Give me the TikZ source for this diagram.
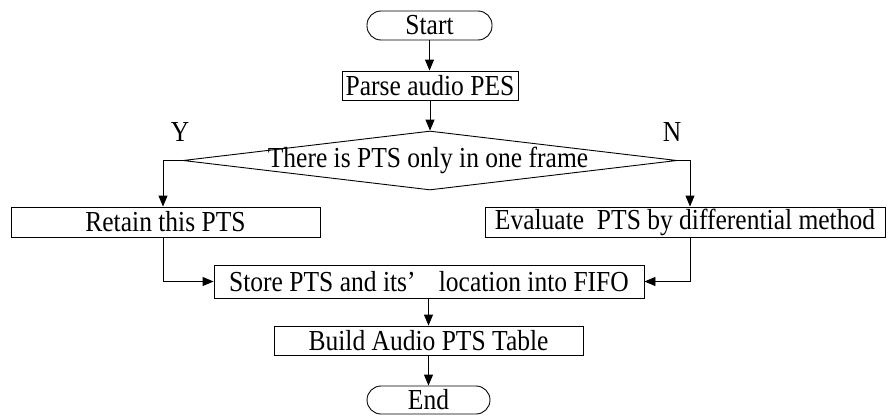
\documentclass[tikz,border=0pt]{standalone}
\usepackage{fontspec}
\setmainfont{Liberation Serif}[FakeStretch=0.88]
\usetikzlibrary{shapes.geometric,arrows.meta}
\begin{document}
\begin{tikzpicture}[x=1pt,y=-1pt,
  every node/.style={font=\fontsize{29}{32}\selectfont},
  box/.style={draw, line width=0.9pt, inner sep=0pt, rectangle},
  term/.style={draw, line width=0.9pt, inner sep=0pt, rectangle, rounded corners=14pt},
  decis/.style={draw, line width=0.9pt, inner sep=0pt, diamond},
  flow/.style={line width=0.9pt, -{Triangle[length=11pt,width=9pt]}},
  lbl/.style={inner sep=0pt}
]
\useasboundingbox (0,0) rectangle (890,415);
\node[term, minimum width=125pt, minimum height=29pt] (start) at (429.5,25.5) {Start};
\node[box, minimum width=176pt, minimum height=29pt] (parse) at (430,85.5) {Parse audio PES};
\node[decis, minimum width=494pt, minimum height=59pt] (dia) at (430,160.5) {};
\node[lbl] (diatext) at (428,160.5) {There is PTS only in one frame};
\node[box, minimum width=309pt, minimum height=30pt] (retain) at (165.5,222) {Retain this PTS};
\node[box, minimum width=400pt, minimum height=30pt] (eval) at (685,222) {Evaluate\ \ PTS by differential method};
\node[box, minimum width=430pt, minimum height=33pt] (store) at (429,281.5) {Store PTS and its’\hspace{0.8em}location into FIFO};
\node[box, minimum width=309pt, minimum height=29pt] (build) at (428.5,340.5) {Build Audio PTS Table};
\node[term, minimum width=123pt, minimum height=28pt] (end) at (428.5,400) {End};
\node[lbl] (ylab) at (180,132) {Y};
\node[lbl] (nlab) at (672,132) {N};
\draw[flow] (start.south) -- (start.south |- parse.north);
\draw[flow] (parse.south) -- (parse.south |- dia.north);
\draw[flow] (dia.west) -| ([xshift=-2.5pt]retain.north);
\draw[flow] (dia.east) -| ([xshift=5pt]eval.north);
\draw[flow] ([xshift=-2.5pt]retain.south) |- (store.west);
\draw[flow] ([xshift=5pt]eval.south) |- (store.east);
\draw[flow] (store.south -| build.north) -- (build.north);
\draw[flow] (build.south) -- (end.north);
\end{tikzpicture}
\end{document}
